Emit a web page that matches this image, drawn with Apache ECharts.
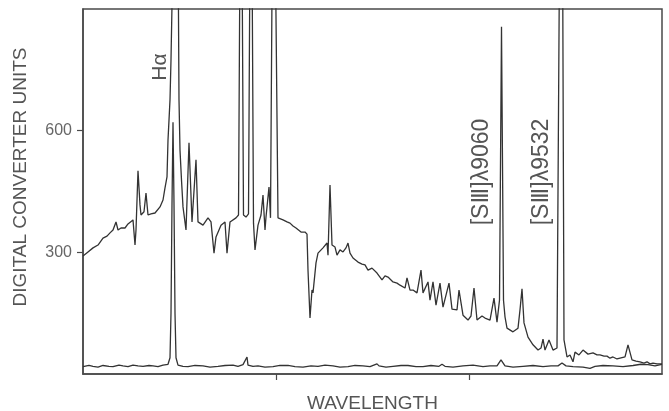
<!DOCTYPE html>
<html>
<head>
<meta charset="utf-8">
<script src="https://cdn.jsdelivr.net/npm/echarts@6/dist/echarts.min.js"></script>
<style>
  html, body { margin: 0; background: #fff; }
  #chart { width: 669px; height: 411px; }
</style>
</head>
<body>
<div id="chart"></div>
<script>
// detector channel (no wavelength scale is printed) and counts
const spectrumX = [0, 5, 10, 15, 20, 24, 27, 30, 33, 35, 38, 42, 45, 47, 50, 52, 53, 55, 57, 58,
  61, 63, 65, 68, 72, 77, 80, 82, 84, 85, 86, 87, 88, 89, 91.5, 94.5, 96, 97, 98.5, 100,
  103, 106, 109, 113, 115, 120, 125, 128, 131, 133, 138, 142, 144, 147, 153, 155.5, 158, 160.5, 163, 165.5,
  168, 170.5, 172, 175, 178, 180, 182, 183, 186, 187.5, 190.5, 192.5, 195, 200, 204, 207, 210, 213, 218, 222,
  224, 225, 227, 229, 230, 233, 235, 240, 244, 245, 247, 249, 252, 254, 257, 260, 263, 265, 267, 270,
  275, 279, 282, 285, 289, 294, 299, 302, 305, 310, 314, 317, 322, 324, 327, 330, 334, 338, 340, 345,
  347, 350, 353, 357, 360, 366, 369, 374, 376, 380, 385, 388, 391, 394, 399, 402, 407, 411, 414, 416.5,
  418.5, 420.5, 422, 424, 430, 435, 437, 439, 441, 445, 450, 455, 458, 460, 462, 466, 470, 474, 475.5, 478.5,
  481, 484, 487, 490, 492, 496, 500, 505, 510, 514, 517, 521, 524, 527, 530, 534, 537, 542, 545, 549,
  553, 557, 561, 564, 567, 570, 574, 579];
const spectrumY = [291, 301, 311, 318, 335, 340, 348, 355, 375, 355, 360, 360, 370, 367, 380, 318, 355, 501, 417, 392,
  400, 446, 392, 395, 397, 412, 429, 459, 486, 577, 626, 676, 774, 910, 1300, 1300, 676, 552, 478, 412,
  355, 570, 375, 528, 375, 367, 385, 375, 298, 338, 367, 375, 298, 375, 385, 392, 1500, 392, 387, 395,
  1500, 372, 306, 367, 392, 441, 355, 387, 461, 385, 1500, 1500, 385, 380, 375, 372, 365, 360, 350, 350,
  345, 256, 138, 207, 200, 274, 298, 311, 323, 293, 466, 318, 313, 293, 306, 301, 311, 323, 298, 286,
  276, 271, 269, 256, 261, 249, 232, 242, 239, 227, 224, 219, 212, 237, 207, 207, 200, 256, 200, 227,
  182, 227, 170, 224, 165, 224, 160, 158, 207, 145, 133, 143, 212, 133, 143, 138, 133, 187, 128, 182,
  856, 182, 141, 113, 104, 113, 158, 210, 126, 91, 72, 59, 64, 86, 59, 84, 59, 64, 64, 1800,
  84, 42, 47, 30, 54, 47, 59, 49, 52, 47, 47, 44, 44, 39, 42, 37, 39, 42, 72, 35,
  32, 30, 27, 30, 25, 27, 25, 25];

const skyX = [0, 6, 10, 15, 20, 26, 30, 36, 40, 45, 50, 55, 60, 66, 70, 75, 80, 85, 87, 88,
  89, 90, 91, 92, 93, 95, 100, 105, 112, 120, 127, 135, 142, 150, 155, 160, 164, 165, 170, 175,
  182, 190, 197, 205, 212, 220, 228, 235, 242, 250, 257, 265, 272, 280, 287, 294, 296, 303, 310, 318,
  325, 333, 340, 348, 356, 359, 362, 370, 380, 390, 400, 407, 414, 418, 422, 430, 440, 450, 460, 468,
  475, 479, 483, 490, 500, 507, 512, 520, 530, 540, 550, 558, 565, 572, 579];
const skyY = [18, 21, 19, 17, 21, 19, 18, 22, 20, 18, 22, 20, 19, 21, 20, 18, 22, 24, 40, 150,
  420, 621, 420, 150, 40, 22, 19, 18, 21, 20, 17, 19, 21, 22, 19, 23, 42, 22, 19, 20,
  17, 18, 21, 21, 18, 17, 20, 19, 22, 20, 17, 18, 21, 20, 18, 25, 20, 17, 19, 21,
  21, 18, 18, 21, 19, 24, 19, 17, 20, 22, 18, 20, 20, 35, 20, 17, 19, 21, 18, 20,
  20, 27, 20, 18, 17, 14, 19, 21, 20, 18, 21, 24, 23, 20, 24];

const yTicks = [300, 600];
const xTicks = [193, 386];

const lineLabels = [
  { text: 'Hα', x: 160, y: 67, size: 21 },
  { text: '[SⅢ]λ9060', x: 482, y: 172, size: 23 },
  { text: '[SⅢ]λ9532', x: 542, y: 172, size: 23 }
];

const ink = '#333';
const frame = '#4a4a4a';
const grey = '#555';
const fontFamily = '"Liberation Sans", "DejaVu Sans", sans-serif';

const zip = (xs, ys) => xs.map((x, i) => [x, ys[i]]);

const chart = echarts.init(document.getElementById('chart'));

const verticalText = (text, x, y, size) => ({
  type: 'text',
  x: x,
  y: y,
  rotation: Math.PI / 2,
  silent: true,
  style: {
    text: text,
    font: size + 'px ' + fontFamily,
    fill: grey,
    align: 'center',
    verticalAlign: 'middle',
    textAlign: 'center',
    textVerticalAlign: 'middle'
  }
});

const option = {
  backgroundColor: '#fff',
  animation: false,
  grid: {
    left: 83,
    right: 7,
    top: 9,
    bottom: 37,
    outerBoundsMode: 'none',
    show: true,
    borderColor: frame,
    borderWidth: 1.5
  },
  xAxis: {
    type: 'value',
    min: 0,
    max: 579,
    interval: 193,
    name: 'WAVELENGTH',
    nameLocation: 'middle',
    nameGap: 20,
    nameTextStyle: { color: grey, fontSize: 19, fontFamily: fontFamily },
    axisLine: { show: true, lineStyle: { color: frame, width: 1.5 } },
    axisTick: { show: true, customValues: xTicks, length: 6, lineStyle: { color: frame, width: 1.2 } },
    axisLabel: { show: false },
    splitLine: { show: false }
  },
  yAxis: {
    type: 'value',
    min: 0,
    max: 900,
    interval: 300,
    axisLine: { show: true, lineStyle: { color: frame, width: 1.5 } },
    axisTick: { show: true, customValues: yTicks, length: 6, lineStyle: { color: frame, width: 1.2 } },
    axisLabel: {
      customValues: yTicks,
      color: '#666',
      fontSize: 16,
      fontFamily: fontFamily,
      margin: 11
    },
    splitLine: { show: false }
  },
  series: [
    {
      name: 'spectrum',
      type: 'line',
      data: zip(spectrumX, spectrumY),
      showSymbol: false,
      clip: true,
      lineStyle: { color: ink, width: 1.3 }
    },
    {
      name: 'sky',
      type: 'line',
      data: zip(skyX, skyY),
      showSymbol: false,
      clip: true,
      lineStyle: { color: ink, width: 1.3 }
    }
  ],
  graphic: [
    verticalText('DIGITAL CONVERTER UNITS', 21, 177, 19),
    ...lineLabels.map(l => verticalText(l.text, l.x, l.y, l.size))
  ]
};

chart.setOption(option);
</script>
</body>
</html>
